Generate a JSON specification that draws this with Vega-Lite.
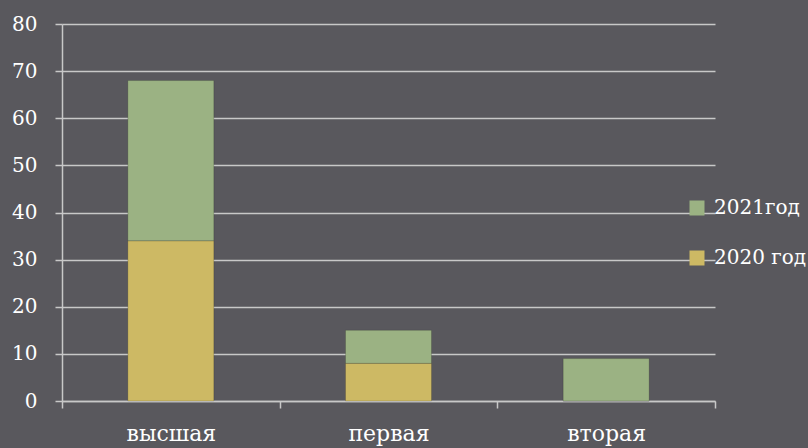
{
  "$schema": "https://vega.github.io/schema/vega-lite/v6.json",
  "autosize": "none",
  "width": 653,
  "height": 377,
  "padding": {"left": 62, "top": 24, "right": 93, "bottom": 47},
  "background": "#59585d",
  "config": {
    "view": {"stroke": null},
    "font": "DejaVu Serif"
  },
  "data": {
    "values": [
      {"category": "высшая", "series": "2020 год", "value": 34, "ord": 1},
      {"category": "высшая", "series": "2021год", "value": 34, "ord": 2},
      {"category": "первая", "series": "2020 год", "value": 8, "ord": 1},
      {"category": "первая", "series": "2021год", "value": 7, "ord": 2},
      {"category": "вторая", "series": "2020 год", "value": 0, "ord": 1},
      {"category": "вторая", "series": "2021год", "value": 9, "ord": 2}
    ]
  },
  "mark": {"type": "bar", "width": {"band": 0.395}, "stroke": "#000000", "strokeOpacity": 0.15, "strokeWidth": 1},
  "encoding": {
    "x": {
      "field": "category",
      "type": "nominal",
      "sort": ["высшая", "первая", "вторая"],
      "scale": {"paddingInner": 0, "paddingOuter": 0},
      "axis": {
        "title": null,
        "labelAngle": 0,
        "labelFont": "DejaVu Serif",
        "labelFontSize": 22,
        "labelColor": "#ffffff",
        "labelPadding": 15,
        "domainColor": "#c8c8c8",
        "domainWidth": 1.5,
        "ticks": true,
        "tickBand": "extent",
        "tickColor": "#c8c8c8",
        "tickWidth": 1.5,
        "tickSize": 7,
        "grid": false
      }
    },
    "y": {
      "field": "value",
      "type": "quantitative",
      "stack": "zero",
      "scale": {"domain": [0, 80], "nice": false},
      "axis": {
        "title": null,
        "values": [0, 10, 20, 30, 40, 50, 60, 70, 80],
        "labelFont": "DejaVu Serif",
        "labelFontSize": 20,
        "labelColor": "#ffffff",
        "labelPadding": 18,
        "domainColor": "#c8c8c8",
        "domainWidth": 1.5,
        "tickColor": "#c8c8c8",
        "tickWidth": 1.5,
        "tickSize": 7,
        "grid": true,
        "gridColor": "#c8c8c8",
        "gridWidth": 1.5
      }
    },
    "color": {
      "field": "series",
      "type": "nominal",
      "scale": {"domain": ["2021год", "2020 год"], "range": ["#9bb283", "#cdb964"]},
      "legend": {
        "title": null,
        "orient": "none",
        "legendX": 625,
        "legendY": 174,
        "padding": 0,
        "symbolType": "square",
        "symbolSize": 225,
        "symbolStrokeWidth": 0,
        "symbolOpacity": 1,
        "labelFont": "DejaVu Serif",
        "labelFontSize": 20,
        "labelColor": "#ffffff",
        "labelOffset": 7,
        "rowPadding": 30
      }
    },
    "order": {"field": "ord", "type": "quantitative"}
  }
}
